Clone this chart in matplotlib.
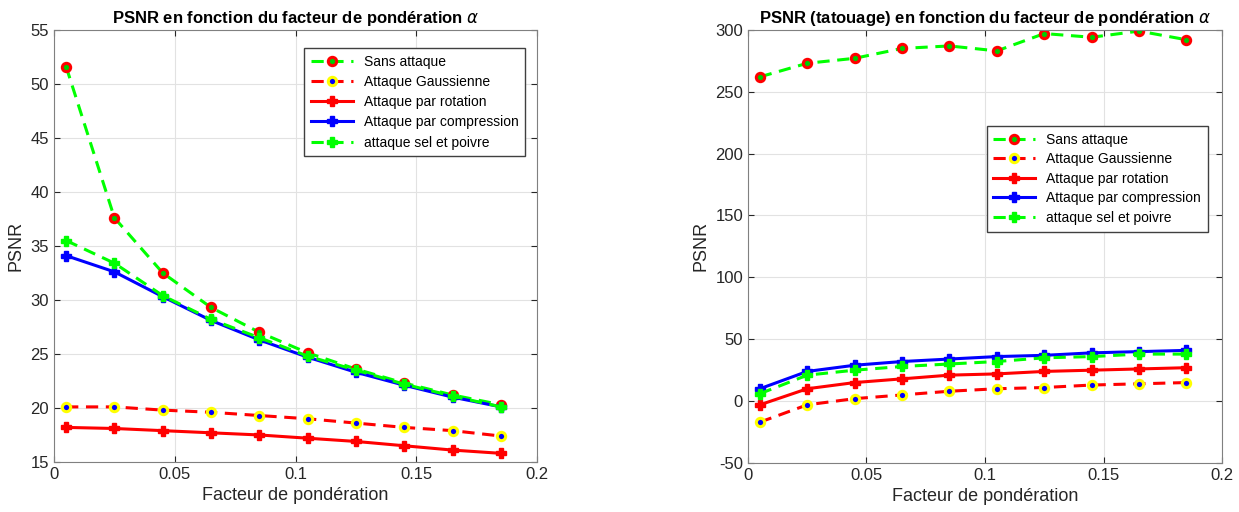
import matplotlib.pyplot as plt

plt.rcParams['font.family'] = ['Liberation Sans', 'DejaVu Sans']
plt.rcParams['axes.unicode_minus'] = False

alpha = [0.005, 0.025, 0.045, 0.065, 0.085, 0.105, 0.125, 0.145, 0.165, 0.185]

labels = ['Sans attaque', 'Attaque Gaussienne', 'Attaque par rotation',
          'Attaque par compression', 'attaque sel et poivre']

# PSNR image
sans_1 = [51.6, 37.6, 32.5, 29.3, 27.0, 25.1, 23.6, 22.3, 21.2, 20.3]
gauss_1 = [20.1, 20.1, 19.8, 19.6, 19.3, 19.0, 18.6, 18.2, 17.9, 17.4]
rot_1 = [18.2, 18.1, 17.9, 17.7, 17.5, 17.2, 16.9, 16.5, 16.1, 15.8]
comp_1 = [34.1, 32.6, 30.3, 28.1, 26.3, 24.7, 23.3, 22.1, 21.0, 20.1]
sel_1 = [35.5, 33.4, 30.4, 28.2, 26.5, 24.8, 23.5, 22.2, 21.1, 20.1]

# PSNR tatouage
sans_2 = [262, 273, 277, 285, 287, 283, 297, 294, 299, 292]
gauss_2 = [-17, -3, 2, 5, 8, 10, 11, 13, 14, 15]
rot_2 = [-3, 10, 15, 18, 21, 22, 24, 25, 26, 27]
comp_2 = [10, 24, 29, 32, 34, 36, 37, 39, 40, 41]
sel_2 = [6, 21, 25, 28, 30, 32, 35, 36, 38, 38]

fig = plt.figure(figsize=(12.39, 5.12), dpi=100)
ax1 = fig.add_axes([0.0436, 0.0977, 0.390, 0.844])
ax2 = fig.add_axes([0.6037, 0.0957, 0.3826, 0.846])


def draw(ax, data):
    sans, gauss, rot, comp, sel = data
    ax.plot(alpha, sans, '--', color='#00ff00', lw=2.2, marker='o', ms=6,
            mec='red', mfc='#00cc00', mew=2.2, dashes=(4, 2.5))
    ax.plot(alpha, gauss, '--', color='red', lw=2.2, marker='o', ms=6,
            mec='yellow', mfc='blue', mew=2.2, dashes=(4, 2.5))
    ax.plot(alpha, rot, '-', color='red', lw=2.2, marker='P', ms=7,
            mec='red', mfc='red')
    ax.plot(alpha, comp, '-', color='blue', lw=2.2, marker='P', ms=7,
            mec='blue', mfc='blue')
    ax.plot(alpha, sel, '--', color='#00ff00', lw=2.2, marker='P', ms=7,
            mec='#00ff00', mfc='#00ff00', dashes=(4, 2.5))
    ax.set_xlim(0, 0.2)
    ax.set_xticks([0, 0.05, 0.1, 0.15, 0.2])
    ax.set_xticklabels(['0', '0.05', '0.1', '0.15', '0.2'])
    ax.grid(True, color='#e2e2e2', lw=0.8)
    ax.tick_params(direction='in', top=True, right=True, labelsize=12,
                   colors='#262626', length=4)
    for s in ax.spines.values():
        s.set_color('#808080')
    ax.set_xlabel('Facteur de pondération', fontsize=13, color='#262626')
    ax.set_ylabel('PSNR', fontsize=13, color='#262626')


draw(ax1, [sans_1, gauss_1, rot_1, comp_1, sel_1])
ax1.set_ylim(15, 55)
ax1.set_title(r'PSNR en fonction du facteur de pondération $\alpha$',
              fontsize=12, fontweight='bold', pad=5)
ax1.legend(labels, loc='upper right', bbox_to_anchor=(0.99, 0.975),
           fontsize=10, fancybox=False, edgecolor='#404040',
           handlelength=3, framealpha=1, borderpad=0.5, labelspacing=0.45)

draw(ax2, [sans_2, gauss_2, rot_2, comp_2, sel_2])
ax2.set_ylim(-50, 300)
ax2.set_title(r'PSNR (tatouage) en fonction du facteur de pondération $\alpha$',
              fontsize=12, fontweight='bold', pad=5)
ax2.legend(labels, loc='upper right', bbox_to_anchor=(0.985, 0.795),
           fontsize=10, fancybox=False, edgecolor='#404040',
           handlelength=3, framealpha=1, borderpad=0.5, labelspacing=0.4)

fig.savefig('out.png', dpi=100)
